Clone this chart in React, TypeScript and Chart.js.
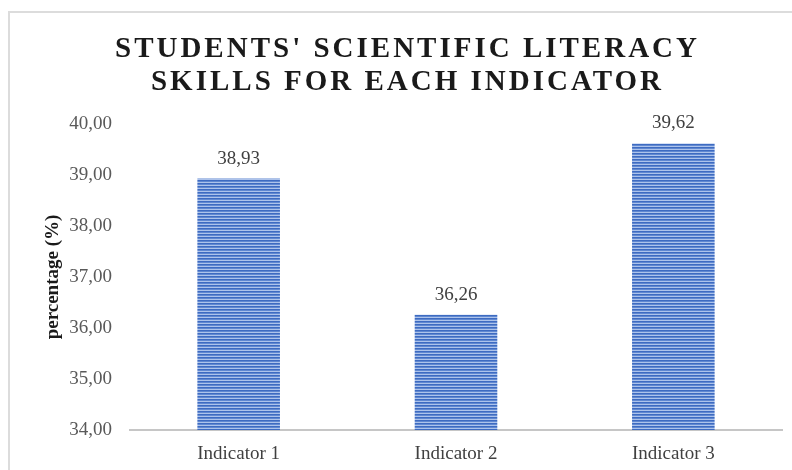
import React, { useEffect, useRef } from "react";
import { Chart, registerables } from "chart.js";

Chart.register(...registerables);

const categories = ["Indicator 1", "Indicator 2", "Indicator 3"];
const scores = [38.93, 36.26, 39.62];
const titleLines = ["STUDENTS' SCIENTIFIC LITERACY", "SKILLS FOR EACH INDICATOR"];
const yAxisTitle = "percentage (%)";
const yMin = 34;
const yMax = 40;

const SERIF = "'Liberation Serif', 'Times New Roman', serif";

const fmt = (v: number) => v.toFixed(2).replace(".", ",");

// Thin horizontal stripes used as the bar fill
function stripePattern(): CanvasPattern | string {
  const c = document.createElement("canvas");
  c.width = 1;
  c.height = 3;
  const g = c.getContext("2d");
  if (!g) return "#4472c4";
  const rows = ["#3e6bc1", "#6088d1", "#adc3eb"];
  rows.forEach((col, i) => {
    g.fillStyle = col;
    g.fillRect(0, i, 1, 1);
  });
  return g.createPattern(c, "repeat") || "#4472c4";
}

// Letter-spaced two-line heading
const titlePlugin = {
  id: "spacedTitle",
  afterDraw(chart: any) {
    const ctx = chart.ctx as CanvasRenderingContext2D;
    ctx.save();
    ctx.font = `bold 29px ${SERIF}`;
    ctx.fillStyle = "#1a1a1a";
    ctx.textAlign = "center";
    ctx.textBaseline = "alphabetic";
    const spacing = 3;
    (ctx as any).letterSpacing = `${spacing}px`;
    const cx = 406 + spacing / 2;
    ctx.fillText(titleLines[0], cx, 57);
    ctx.fillText(titleLines[1], cx, 90);
    ctx.restore();
  },
};

const valueLabels = {
  id: "valueLabels",
  afterDatasetsDraw(chart: any) {
    const ctx = chart.ctx as CanvasRenderingContext2D;
    const meta = chart.getDatasetMeta(0);
    ctx.save();
    ctx.font = `19px ${SERIF}`;
    ctx.fillStyle = "#404040";
    ctx.textAlign = "center";
    ctx.textBaseline = "middle";
    meta.data.forEach((bar: any, i: number) => {
      ctx.fillText(fmt(scores[i]), bar.x, bar.y - 20);
    });
    ctx.restore();
  },
};

export default function App() {
  const ref = useRef<HTMLCanvasElement | null>(null);

  useEffect(() => {
    if (!ref.current) return;
    const chart = new Chart(ref.current, {
      type: "bar",
      data: {
        labels: categories,
        datasets: [
          {
            data: scores,
            backgroundColor: stripePattern() as any,
            borderWidth: 0,
            categoryPercentage: 1,
            barPercentage: 0.38,
          },
        ],
      },
      options: {
        animation: false,
        responsive: false,
        devicePixelRatio: 1,
        layout: { padding: { top: 124, left: 36, right: 10, bottom: 0 } },
        plugins: {
          legend: { display: false },
          title: { display: false },
          tooltip: { enabled: false },
        },
        scales: {
          x: {
            grid: { display: false, drawTicks: false },
            border: { display: true, color: "#c6c6c6", width: 2 },
            ticks: {
              color: "#404040",
              font: { family: SERIF, size: 19 },
              padding: 13,
            },
            afterFit: (s: any) => {
              s.height = 40;
            },
          },
          y: {
            min: yMin,
            max: yMax,
            grid: { display: false, drawTicks: false },
            border: { display: false },
            ticks: {
              stepSize: 1,
              color: "#595959",
              font: { family: SERIF, size: 19 },
              padding: 18,
              callback: (v: any) => fmt(Number(v)),
            },
            title: {
              display: true,
              text: yAxisTitle,
              color: "#1a1a1a",
              font: { family: SERIF, size: 19, weight: "bold" },
              padding: { top: 6, bottom: 0 },
            },
            afterFit: (s: any) => {
              s.width = 94;
            },
          },
        },
      },
      plugins: [titlePlugin, valueLabels],
    });
    return () => chart.destroy();
  }, []);

  return (
    <div
      style={{
        position: "fixed",
        left: 0,
        top: 0,
        width: 792,
        height: 470,
        background: "#ffffff",
        overflow: "hidden",
      }}
    >
      <div
        style={{
          position: "absolute",
          left: 8,
          top: 11,
          right: 0,
          bottom: 0,
          borderTop: "2px solid #dcdcdc",
          borderLeft: "2px solid #dcdcdc",
        }}
      />
      <canvas
        ref={ref}
        width={792}
        height={470}
        style={{ position: "absolute", left: 0, top: 0, width: 792, height: 470 }}
      />
    </div>
  );
}
